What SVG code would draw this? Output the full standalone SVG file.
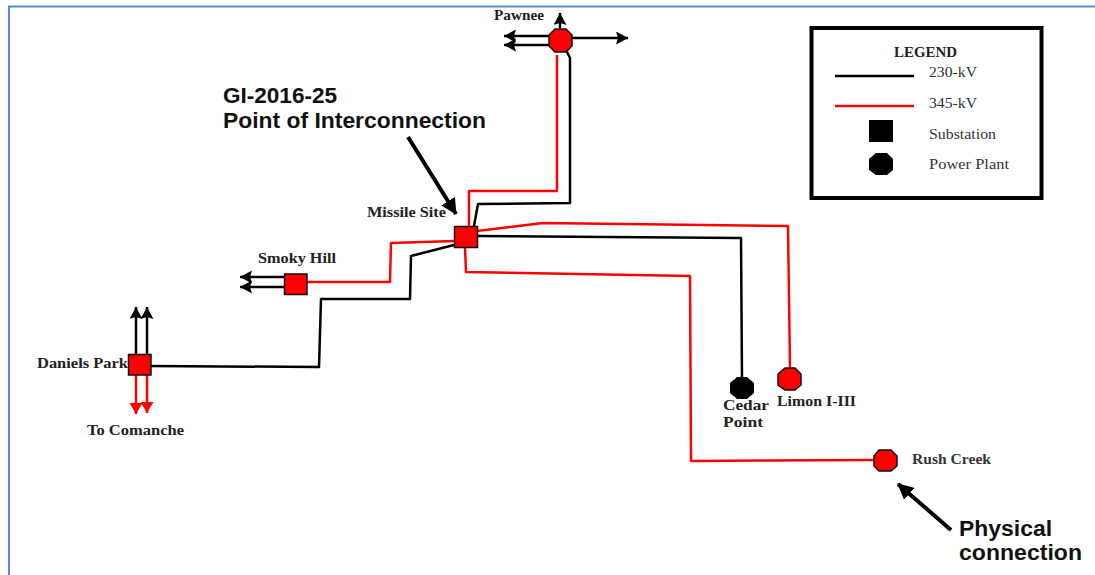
<svg xmlns="http://www.w3.org/2000/svg" width="1095" height="575" viewBox="0 0 1095 575">
<style>
.k{fill:none;stroke:#000;stroke-width:2.500;stroke-linejoin:round}
.r{fill:none;stroke:#f00;stroke-width:2.500;stroke-linejoin:round}
.sub{fill:#f00;stroke:#111;stroke-width:1.500}
.t{font-family:"Liberation Serif",serif;font-weight:bold;font-size:14px;fill:#222}
.l{font-family:"Liberation Serif",serif;font-size:14.500px;fill:#333}
.b{font-family:"Liberation Sans",Arial,sans-serif;font-weight:bold;font-size:22.500px;fill:#111}
</style>
<defs>
<marker id="ak" markerUnits="userSpaceOnUse" markerWidth="14" markerHeight="14" refX="12" refY="6.500" orient="auto"><path d="M0 0L12 6.500L0 13L2 6.500Z" fill="#000"/></marker>
<marker id="ar" markerUnits="userSpaceOnUse" markerWidth="14" markerHeight="14" refX="11" refY="6.500" orient="auto"><path d="M0 0L11 6.500L0 13Z" fill="#f00"/></marker>
<marker id="ab" markerUnits="userSpaceOnUse" markerWidth="18" markerHeight="16" refX="15" refY="8" orient="auto"><path d="M0 0L16 8L0 16Z" fill="#000"/></marker>
</defs>
<path d="M9 575V6.500H1095" fill="none" stroke="#5b8bd0" stroke-width="2"/>
<g id="connectors">
<path class="r" d="M557 55V191H469V226"/>
<path class="k" d="M566 50L570 58V203L478 204L474 226"/>
<path class="r" d="M454 241L391 243L390 282H307"/>
<path class="k" d="M454 245L411 256L410 299H321L319 367L150 366"/>
<path class="r" d="M477 231L543 223L788 226L790 368"/>
<path class="k" d="M477 236L741 238L742 378"/>
<path class="r" d="M465 247L466 272L690 276L691 461L874 460"/>
<path class="k" d="M549 36H504" marker-end="url(#ak)"/>
<path class="k" d="M549 45H504" marker-end="url(#ak)"/>
<path class="k" d="M571 38H628" marker-end="url(#ak)"/>
<path class="k" d="M560 28V13" marker-end="url(#ak)"/>
<path class="k" d="M284 277H240" marker-end="url(#ak)"/>
<path class="k" d="M284 287H240" marker-end="url(#ak)"/>
<path class="k" d="M136 354V307" marker-end="url(#ak)"/>
<path class="k" d="M147 354V307" marker-end="url(#ak)"/>
<path class="r" d="M136 375V414" marker-end="url(#ar)"/>
<path class="r" d="M147 375V413" marker-end="url(#ar)"/>
<path d="M408 137L456 214" fill="none" stroke="#000" stroke-width="4" marker-end="url(#ab)"/>
<path d="M951 530L898 484" fill="none" stroke="#000" stroke-width="4" marker-end="url(#ab)"/>
</g>
<g id="pawnee"><path class="sub" d="M555 29H566L572 35V46L566 52H555L549 46V35Z"/><text class="t" x="494" y="20" textLength="50" lengthAdjust="spacingAndGlyphs">Pawnee</text></g>
<g id="missile-site"><rect class="sub" x="454.500" y="226.500" width="23" height="21"/><text class="t" x="367" y="217" textLength="79" lengthAdjust="spacingAndGlyphs">Missile Site</text></g>
<g id="smoky-hill"><rect class="sub" x="284.500" y="274" width="22.500" height="20.500"/><text class="t" x="258" y="263" textLength="78" lengthAdjust="spacingAndGlyphs">Smoky Hill</text></g>
<g id="daniels-park"><rect class="sub" x="128.500" y="354.500" width="22.500" height="20.500"/><text class="t" x="37" y="368" textLength="91" lengthAdjust="spacingAndGlyphs">Daniels Park</text></g>
<g id="comanche"><text class="t" x="87" y="435" textLength="97" lengthAdjust="spacingAndGlyphs">To Comanche</text></g>
<g id="cedar-point"><path d="M737 377H747L754 383V393L747 399H737L730 393V383Z" fill="#000"/><text class="t" x="723" y="410" textLength="46" lengthAdjust="spacingAndGlyphs">Cedar</text><text class="t" x="723" y="427" textLength="40" lengthAdjust="spacingAndGlyphs">Point</text></g>
<g id="limon"><path class="sub" d="M785 368H795L801 374V385L795 390H785L778 385V374Z"/><text class="t" x="777" y="406" textLength="79" lengthAdjust="spacingAndGlyphs">Limon I-III</text></g>
<g id="rush-creek"><path class="sub" d="M879 450H891L897 456V466L891 471H879L874 466V456Z"/><text class="l" font-weight="bold" x="912" y="464" textLength="79" lengthAdjust="spacingAndGlyphs">Rush Creek</text></g>
<g id="gi-label"><text class="b" x="223" y="103" textLength="114" lengthAdjust="spacingAndGlyphs">GI-2016-25</text><text class="b" x="223" y="128" textLength="263" lengthAdjust="spacingAndGlyphs">Point of Interconnection</text></g>
<g id="physical-label"><text class="b" x="959" y="536" textLength="93" lengthAdjust="spacingAndGlyphs">Physical</text><text class="b" x="959" y="560" textLength="123" lengthAdjust="spacingAndGlyphs">connection</text></g>
<g id="legend">
<rect x="811.500" y="28" width="230" height="170" fill="#fff" stroke="#000" stroke-width="4"/>
<text class="t" x="894" y="57" textLength="63" lengthAdjust="spacingAndGlyphs">LEGEND</text>
<path class="k" d="M835 76H914" stroke-width="2"/>
<path class="r" d="M835 106H914"/>
<rect x="869" y="120" width="24" height="22" fill="#000"/>
<path d="M876 153H887L893 159V170L887 175H876L869 170V159Z" fill="#000"/>
<text class="l" x="929" y="77" textLength="48" lengthAdjust="spacingAndGlyphs">230-kV</text>
<text class="l" x="929" y="108" textLength="48" lengthAdjust="spacingAndGlyphs">345-kV</text>
<text class="l" x="929" y="139" textLength="67" lengthAdjust="spacingAndGlyphs">Substation</text>
<text class="l" x="929" y="169" textLength="80" lengthAdjust="spacingAndGlyphs">Power Plant</text>
</g>
</svg>
